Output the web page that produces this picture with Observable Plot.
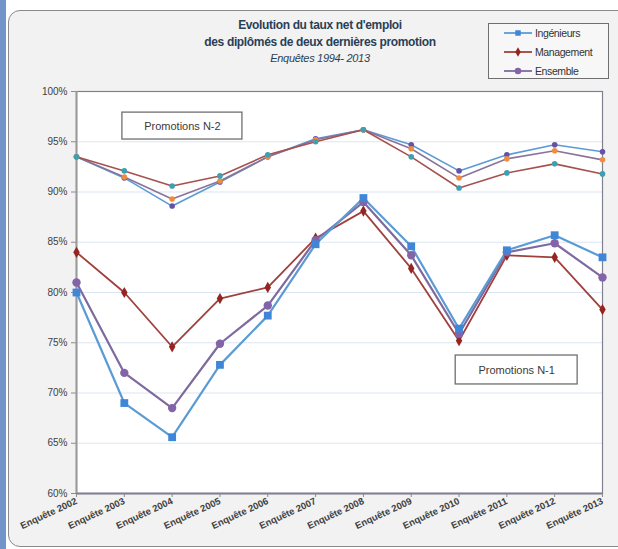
<!DOCTYPE html>
<html>
<head>
<meta charset="utf-8">
<script src="https://cdn.jsdelivr.net/npm/d3@7"></script>
<script src="https://cdn.jsdelivr.net/npm/@observablehq/plot@0.6"></script>
<style>
  html, body { margin: 0; padding: 0; background: #ffffff; }
  #page { position: relative; width: 618px; height: 549px; overflow: hidden; font-family: "Liberation Sans", Arial, sans-serif; }
  #strip { position: absolute; left: 0; top: 0; width: 6px; height: 549px; background: #7393cb; }
  #panel { position: absolute; left: 8px; top: 10px; width: 620px; height: 535px; background: #f2f2f2; border: 1px solid #8a8a8a; border-radius: 12px; }
  #chart { position: absolute; left: 0; top: 0; }
  #title { position: absolute; left: 170px; width: 300px; top: 17px; text-align: center; color: #2a3f55; }
  #title .t { font-weight: bold; font-size: 12px; line-height: 16.5px; letter-spacing: -0.35px; }
  #title .s { font-style: italic; font-size: 11px; line-height: 16px; letter-spacing: -0.3px; }
  #legend { position: absolute; left: 488px; top: 23px; width: 121px; height: 56px; border: 1px solid #6f6f6f; background: #f7f7f7; box-sizing: border-box; }
  #legend .row { position: absolute; left: 14px; height: 14px; display: flex; align-items: center; font-size: 10.5px; color: #333; letter-spacing: -0.4px; }
  #legend svg { margin-right: 2px; }
</style>
</head>
<body>
<div id="page">
  <div id="strip"></div>
  <div id="panel"></div>
  <div id="chart"></div>
  <div id="title">
    <div class="t">Evolution du taux net d'emploi</div>
    <div class="t">des diplômés de deux dernières promotion</div>
    <div class="s">Enquêtes 1994- 2013</div>
  </div>
  <div id="legend"></div>
</div>
<script>
// ---- Data ----
const years = [2002, 2003, 2004, 2005, 2006, 2007, 2008, 2009, 2010, 2011, 2012, 2013];
const yTicks = [60, 65, 70, 75, 80, 85, 90, 95, 100];

// Promotions N-1
const ingenieursN1 = [80.0, 69.0, 65.6, 72.8, 77.7, 84.8, 89.4, 84.6, 76.4, 84.2, 85.7, 83.5];
const managementN1 = [84.0, 80.0, 74.6, 79.4, 80.5, 85.4, 88.1, 82.4, 75.2, 83.7, 83.5, 78.3];
const ensembleN1   = [81.0, 72.0, 68.5, 74.9, 78.7, 85.2, 89.0, 83.7, 75.9, 84.0, 84.9, 81.5];

// Promotions N-2
const ingenieursN2 = [93.5, 91.4, 88.6, 91.0, 93.5, 95.3, 96.2, 94.7, 92.1, 93.7, 94.7, 94.0];
const managementN2 = [93.5, 92.1, 90.6, 91.6, 93.7, 95.0, 96.2, 93.5, 90.4, 91.9, 92.8, 91.8];
const ensembleN2   = [93.5, 91.5, 89.3, 91.1, 93.5, 95.2, 96.2, 94.3, 91.4, 93.3, 94.1, 93.2];

const legendLabels = ["Ingénieurs", "Management", "Ensemble"];
const boxLabels = ["Promotions N-2", "Promotions N-1"];

// ---- Styles (kept apart from data) ----
const seriesDefs = [
  {values: ingenieursN2, line: "#5b9bd5", dot: "#6651a8", symbol: "circle", r: 2.8, width: 1.6},
  {values: ensembleN2,   line: "#8a7398", dot: "#ef8d3e", symbol: "circle", r: 2.8, width: 1.6},
  {values: managementN2, line: "#a5514e", dot: "#3f9fb0", symbol: "circle", r: 2.8, width: 1.6},
  {values: managementN1, line: "#a0403c", dot: "#952523", symbol: "diamond", r: 3.4, width: 1.8},
  {values: ensembleN1,   line: "#7e6a9e", dot: "#8464a8", symbol: "circle", r: 4.2, width: 2.2},
  {values: ingenieursN1, line: "#5b9bd5", dot: "#3f86d8", symbol: "square", r: 4.4, width: 2.2}
];
// annotation boxes placed in data units
const boxes = [
  {label: boxLabels[0], x1: 2002.96, x2: 2005.47, y1: 95.22, y2: 97.9},
  {label: boxLabels[1], x1: 2009.93, x2: 2012.48, y1: 70.85, y2: 73.73}
];

const marks = [
  Plot.frame({fill: "white", stroke: null}),
  Plot.gridY(yTicks.filter(d => d > 60 && d < 100), {stroke: "#dce6f2", strokeOpacity: 1, strokeWidth: 1.2}),
  Plot.axisY({ticks: yTicks, tickFormat: d => d + "%", tickSize: 5, tickPadding: 4, label: null,
              stroke: "#8c8c8c", fill: "#404040", fontSize: 10}),
  Plot.axisX({ticks: years, tickFormat: d => "Enquête " + d, tickRotate: -25, tickSize: 4, tickPadding: 3,
              label: null, stroke: "#8c8c8c", fill: "#404040", fontSize: 9.5, fontWeight: "bold"}),
  Plot.frame({stroke: "#80808f", strokeWidth: 1.2}),
  Plot.ruleX([2002], {stroke: "#9a9a9a", strokeWidth: 2}),
  Plot.ruleY([60], {stroke: "#80808f", strokeWidth: 2})
];

for (const s of seriesDefs) {
  const rows = years.map((y, i) => ({year: y, value: s.values[i]}));
  marks.push(Plot.line(rows, {x: "year", y: "value", stroke: s.line, strokeWidth: s.width}));
}
for (const s of seriesDefs) {
  const rows = years.map((y, i) => ({year: y, value: s.values[i]}));
  marks.push(Plot.dot(rows, {x: "year", y: "value", fill: s.dot, stroke: null, symbol: s.symbol, r: s.r}));
}

marks.push(Plot.rect(boxes, {x1: "x1", x2: "x2", y1: "y1", y2: "y2", fill: "white", stroke: "#6f6f6f", strokeWidth: 1.3}));
marks.push(Plot.text(boxes, {x: d => (d.x1 + d.x2) / 2, y: d => (d.y1 + d.y2) / 2, text: "label",
  fontSize: 11, fill: "#3a3a3a", letterSpacing: "-0.4px"}));

const chart = Plot.plot({
  width: 618,
  height: 549,
  marginTop: 91,
  marginBottom: 56,
  marginLeft: 76,
  marginRight: 16,
  x: {type: "linear", domain: [2002, 2013]},
  y: {domain: [60, 100]},
  style: {background: "transparent", fontFamily: "'Liberation Sans', Arial, sans-serif"},
  marks
});
document.getElementById("chart").appendChild(chart);

// ---- Legend ----
const legendStyles = [
  {line: "#5b9bd5", dot: "#3f86d8", symbol: d3.symbolSquare, size: 30},
  {line: "#a0403c", dot: "#952523", symbol: d3.symbolDiamond, size: 26},
  {line: "#7e6a9e", dot: "#8464a8", symbol: d3.symbolCircle, size: 34}
];
const legend = document.getElementById("legend");
const rowTops = [2, 21, 40];
legendLabels.forEach((lab, i) => {
  const st = legendStyles[i];
  const row = document.createElement("div");
  row.className = "row";
  row.style.top = rowTops[i] + "px";
  const path = d3.symbol(st.symbol, st.size)();
  row.innerHTML = `<svg width="30" height="12"><line x1="1" x2="29" y1="6" y2="6" stroke="${st.line}" stroke-width="1.8"/>` +
    `<path d="${path}" transform="translate(15,6)" fill="${st.dot}"/></svg><span>${lab}</span>`;
  legend.appendChild(row);
});
</script>
</body>
</html>
